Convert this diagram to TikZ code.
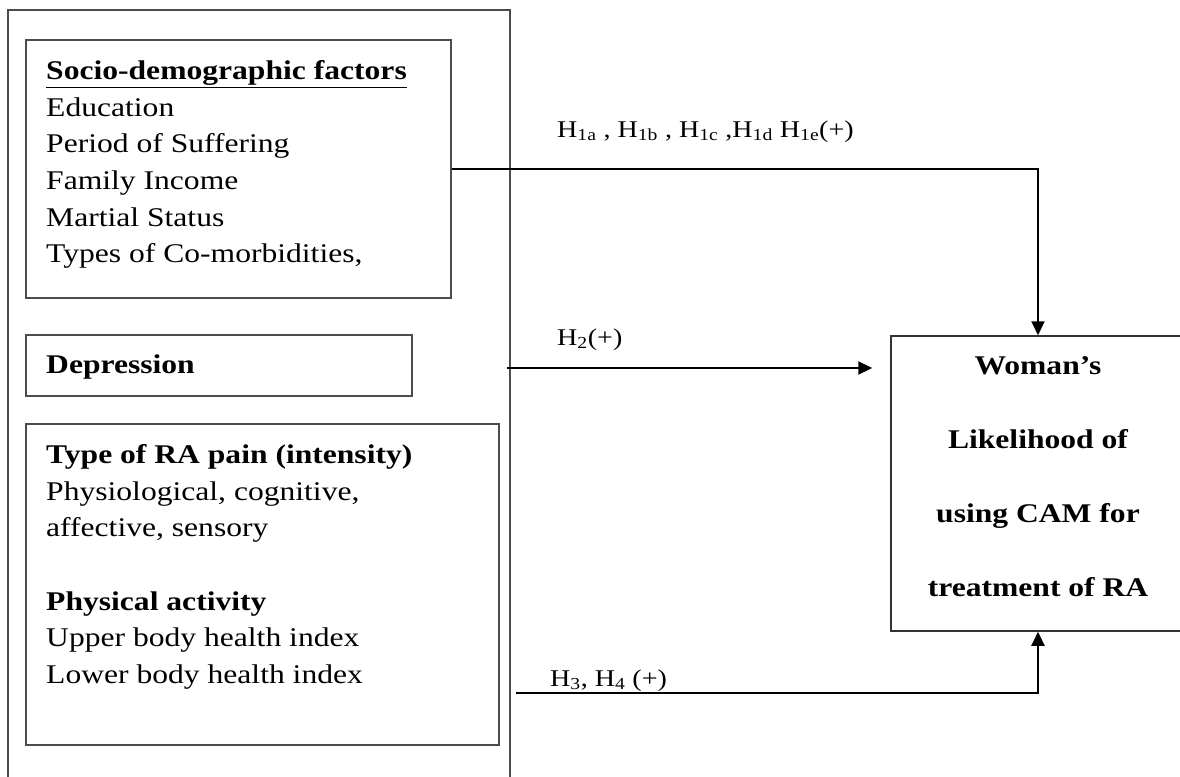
\documentclass[tikz,border=0pt]{standalone}
\usepackage{fontspec}
\setmainfont{Liberation Serif}[FakeStretch=1.17]
\usetikzlibrary{arrows.meta}
\definecolor{boxgray}{gray}{0.3}
\begin{document}
\begin{tikzpicture}[x=1pt,y=-1pt,
  box/.style={draw=boxgray, line width=1.5pt, inner sep=0pt, fill=none},
  txt/.style={inner sep=0pt, align=left, font=\fontsize{27}{36.6}\selectfont},
  ttl/.style={inner sep=0pt, align=center, font=\fontsize{27}{74}\selectfont\bfseries},
  lab/.style={inner sep=0pt, font=\fontsize{24}{28}\selectfont},
  arr/.style={draw=black, line width=2.2pt, -{Triangle[length=14pt,width=13pt]}}]
\clip (0,0) rectangle (1180,776);
\fill[white] (0,0) rectangle (1180,776);
% boxes
\node[box, minimum width=502pt, minimum height=790pt] (outer) at (259,405) {};
\node[box, minimum width=425pt, minimum height=258pt] (socio) at (238.5,169) {};
\node[box, minimum width=386pt, minimum height=61pt] (dep) at (219,365.5) {};
\node[box, minimum width=473pt, minimum height=321pt] (ptype) at (262.5,584.5) {};
\node[box, draw=black!80, minimum width=294pt, minimum height=295pt] (target) at (1038,483.5) {};
% texts
\node[txt, anchor=north west] (sociotext) at (46,60.5)
  {\textbf{\underline{Socio-demographic factors}}\\Education\\Period of Suffering\\Family Income\\Martial Status\\Types of Co-morbidities,};
\node[txt, anchor=base west] (deptext) at (46,373) {\textbf{Depression}};
\node[txt, anchor=north west] (typetext) at (46,444.5)
  {\textbf{Type of RA pain (intensity)}\\Physiological, cognitive,\\affective, sensory\\[36.6pt]\textbf{Physical activity}\\Upper body health index\\Lower body health index};
\node[ttl, anchor=north] (targettext) at (1038,356.7)
  {Woman’s\\Likelihood of\\using CAM for\\treatment of RA};
% labels
\node[lab, anchor=base west] (h1) at (557,137)
  {H\textsubscript{1a} , H\textsubscript{1b} , H\textsubscript{1c} ,H\textsubscript{1d} H\textsubscript{1e}(+)};
\node[lab, anchor=base west] (h2) at (557,345) {H\textsubscript{2}(+)};
\node[lab, anchor=base west] (h3) at (550,686) {H\textsubscript{3}, H\textsubscript{4} (+)};
% connectors
\coordinate (s2) at (507,368);
\coordinate (s3) at (516,693);
\draw[arr] (socio.east) -| (target.north);
\draw[arr, shorten >=18pt] (s2) -- (target.west |- s2);
\draw[arr] (s3) -| (target.south);
\end{tikzpicture}
\end{document}
